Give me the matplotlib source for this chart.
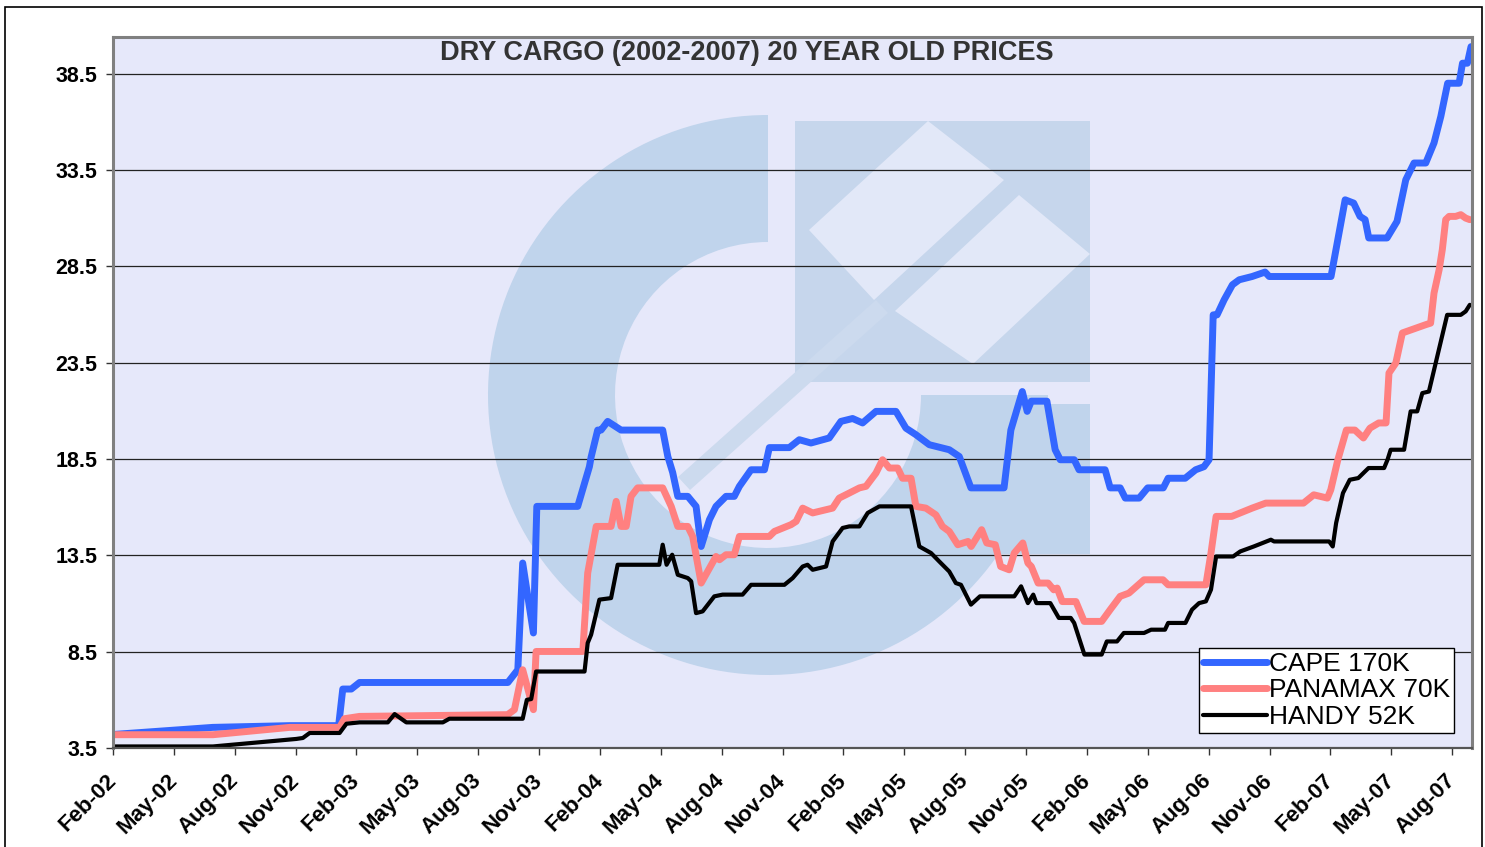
"""
Dry cargo 20 year old second-hand prices, 2002-2007 (Cape / Panamax / Handy).
"""

import matplotlib
matplotlib.use("Agg")
import matplotlib.pyplot as plt
from matplotlib.patches import Rectangle, Wedge, Polygon

plt.rcParams["font.family"] = ["Liberation Sans", "DejaVu Sans"]

# ─── Data (time in decimal years, price) ────────────────────────────────────
TITLE = "DRY CARGO (2002-2007) 20 YEAR OLD PRICES"

CAPE_T = [2002.083, 2002.493, 2002.809, 2003.010, 2003.027, 2003.062, 2003.096,
          2003.705, 2003.746, 2003.766, 2003.810, 2003.824, 2003.992, 2004.040,
          2004.047, 2004.074, 2004.088, 2004.115, 2004.170, 2004.341, 2004.362,
          2004.382, 2004.403, 2004.444, 2004.478, 2004.499, 2004.533, 2004.560,
          2004.601, 2004.635, 2004.656, 2004.704, 2004.759, 2004.779, 2004.861,
          2004.902, 2004.950, 2005.025, 2005.073, 2005.121, 2005.162, 2005.217,
          2005.299, 2005.340, 2005.381, 2005.436, 2005.518, 2005.559, 2005.607,
          2005.743, 2005.771, 2005.818, 2005.838, 2005.855, 2005.919, 2005.953,
          2005.974, 2006.031, 2006.051, 2006.158, 2006.179, 2006.220, 2006.241,
          2006.298, 2006.333, 2006.397, 2006.417, 2006.487, 2006.530, 2006.564,
          2006.585, 2006.602, 2006.618, 2006.647, 2006.681, 2006.709, 2006.762,
          2006.815, 2006.832, 2007.086, 2007.144, 2007.179, 2007.205, 2007.226,
          2007.241, 2007.316, 2007.357, 2007.393, 2007.427, 2007.475, 2007.509,
          2007.537, 2007.565, 2007.612, 2007.626, 2007.646, 2007.661]
CAPE_V = [4.20, 4.57, 4.66, 4.66, 6.56, 6.56, 6.90,
          6.90, 7.56, 13.10, 9.47, 16.04, 16.04, 18.10,
          18.60, 20.00, 20.00, 20.45, 20.00, 20.00, 18.63,
          17.80, 16.56, 16.56, 16.04, 13.96, 15.35, 16.04,
          16.56, 16.56, 17.08, 17.94, 17.94, 19.09, 19.09,
          19.50, 19.33, 19.59, 20.45, 20.60, 20.37, 20.97,
          20.97, 20.10, 19.76, 19.24, 18.98, 18.63, 17.00,
          17.00, 20.00, 22.00, 20.97, 21.50, 21.50, 18.98,
          18.46, 18.46, 17.94, 17.94, 17.00, 17.00, 16.47,
          16.47, 17.00, 17.00, 17.50, 17.50, 17.94, 18.10,
          18.46, 25.98, 25.98, 26.76, 27.54, 27.80, 27.97,
          28.20, 27.97, 27.97, 31.95, 31.78, 31.09, 30.92,
          29.97, 29.97, 30.83, 32.99, 33.86, 33.86, 34.90,
          36.28, 38.00, 38.00, 39.04, 39.04, 39.90]

PANAMAX_T = [2002.083, 2002.494, 2002.809, 2003.014, 2003.034, 2003.096, 2003.704,
             2003.732, 2003.766, 2003.810, 2003.821, 2004.013, 2004.033, 2004.068,
             2004.129, 2004.150, 2004.170, 2004.191, 2004.211, 2004.238, 2004.341,
             2004.376, 2004.403, 2004.444, 2004.464, 2004.499, 2004.560, 2004.574,
             2004.601, 2004.635, 2004.656, 2004.779, 2004.800, 2004.868, 2004.889,
             2004.916, 2004.957, 2005.039, 2005.066, 2005.107, 2005.149, 2005.176,
             2005.217, 2005.244, 2005.272, 2005.306, 2005.326, 2005.361, 2005.381,
             2005.422, 2005.463, 2005.490, 2005.518, 2005.553, 2005.595, 2005.608,
             2005.651, 2005.672, 2005.707, 2005.729, 2005.764, 2005.785, 2005.820,
             2005.841, 2005.855, 2005.883, 2005.924, 2005.947, 2005.961, 2005.982,
             2006.038, 2006.072, 2006.144, 2006.179, 2006.220, 2006.256, 2006.318,
             2006.396, 2006.417, 2006.572, 2006.593, 2006.614, 2006.678, 2006.762,
             2006.818, 2006.973, 2007.015, 2007.071, 2007.085, 2007.114, 2007.149,
             2007.184, 2007.219, 2007.246, 2007.282, 2007.312, 2007.324, 2007.352,
             2007.379, 2007.475, 2007.495, 2007.509, 2007.530, 2007.543, 2007.557,
             2007.571, 2007.598, 2007.619, 2007.639, 2007.656]
PANAMAX_V = [4.19, 4.19, 4.57, 4.57, 5.02, 5.14, 5.23,
             5.49, 7.56, 5.49, 8.51, 8.51, 12.58, 15.00,
             15.00, 16.30, 15.00, 15.00, 16.56, 17.00, 17.00,
             16.04, 15.00, 15.00, 14.48, 12.06, 13.44, 13.27,
             13.53, 13.53, 14.48, 14.48, 14.74, 15.09, 15.26,
             15.95, 15.70, 15.95, 16.47, 16.73, 17.00, 17.08,
             17.77, 18.46, 18.03, 18.03, 17.50, 17.50, 16.04,
             15.95, 15.60, 15.00, 14.74, 14.05, 14.22, 13.96,
             14.83, 14.14, 14.05, 12.92, 12.75, 13.62, 14.14,
             13.10, 12.92, 12.06, 12.06, 11.71, 11.80, 11.10,
             11.10, 10.07, 10.07, 10.68, 11.37, 11.54, 12.23,
             12.23, 11.97, 11.97, 13.62, 15.52, 15.52, 15.95,
             16.21, 16.21, 16.64, 16.47, 16.90, 18.46, 20.00,
             20.00, 19.59, 20.10, 20.37, 20.37, 22.96, 23.48,
             25.04, 25.47, 25.55, 27.11, 28.32, 29.36, 30.92,
             31.09, 31.09, 31.18, 31.00, 30.92]

HANDY_T = [2002.083, 2002.494, 2002.836, 2002.863, 2002.891, 2003.014, 2003.042,
           2003.096, 2003.212, 2003.240, 2003.288, 2003.438, 2003.465, 2003.766,
           2003.783, 2003.801, 2003.821, 2004.020, 2004.033, 2004.047, 2004.068,
           2004.081, 2004.129, 2004.156, 2004.327, 2004.341, 2004.357, 2004.380,
           2004.403, 2004.444, 2004.458, 2004.478, 2004.505, 2004.553, 2004.587,
           2004.669, 2004.704, 2004.841, 2004.875, 2004.916, 2004.936, 2004.957,
           2005.012, 2005.039, 2005.080, 2005.107, 2005.149, 2005.183, 2005.231,
           2005.361, 2005.395, 2005.443, 2005.477, 2005.518, 2005.545, 2005.566,
           2005.607, 2005.644, 2005.785, 2005.813, 2005.841, 2005.863, 2005.876,
           2005.933, 2005.968, 2006.017, 2006.031, 2006.073, 2006.144, 2006.165,
           2006.207, 2006.235, 2006.318, 2006.347, 2006.404, 2006.417, 2006.488,
           2006.515, 2006.544, 2006.572, 2006.593, 2006.614, 2006.684, 2006.713,
           2006.769, 2006.839, 2006.852, 2007.078, 2007.093, 2007.107, 2007.135,
           2007.163, 2007.198, 2007.240, 2007.304, 2007.318, 2007.331, 2007.386,
           2007.413, 2007.440, 2007.461, 2007.488, 2007.563, 2007.619, 2007.639,
           2007.656]
HANDY_V = [3.58, 3.58, 3.97, 4.02, 4.28, 4.28, 4.76,
           4.83, 4.83, 5.26, 4.83, 4.83, 5.02, 5.02,
           6.00, 6.04, 7.47, 7.47, 8.95, 9.38, 10.50,
           11.20, 11.28, 13.01, 13.01, 14.05, 13.01, 13.53,
           12.49, 12.32, 12.15, 10.50, 10.59, 11.37, 11.46,
           11.46, 11.97, 11.97, 12.32, 12.92, 13.01, 12.75,
           12.92, 14.22, 14.92, 15.00, 15.00, 15.70, 16.04,
           16.04, 13.96, 13.62, 13.18, 12.66, 12.06, 11.97,
           10.94, 11.37, 11.37, 11.89, 11.02, 11.46, 11.02,
           11.02, 10.25, 10.25, 9.99, 8.35, 8.35, 9.03,
           9.03, 9.47, 9.47, 9.64, 9.64, 9.99, 9.99,
           10.68, 11.02, 11.11, 11.72, 13.44, 13.44, 13.70,
           13.96, 14.31, 14.22, 14.22, 13.96, 15.18, 16.73,
           17.42, 17.51, 18.03, 18.03, 18.46, 18.98, 18.98,
           20.97, 20.97, 21.92, 22.00, 25.98, 25.98, 26.16,
           26.50]

SERIES = [
    ("CAPE 170K",   CAPE_T,    CAPE_V,    "#3366FF", 5.0),
    ("PANAMAX 70K", PANAMAX_T, PANAMAX_V, "#FF8080", 5.0),
    ("HANDY 52K",   HANDY_T,   HANDY_V,   "#000000", 3.0),
]

X_LABELS = ["Feb-02", "May-02", "Aug-02", "Nov-02", "Feb-03", "May-03", "Aug-03",
            "Nov-03", "Feb-04", "May-04", "Aug-04", "Nov-04", "Feb-05", "May-05",
            "Aug-05", "Nov-05", "Feb-06", "May-06", "Aug-06", "Nov-06", "Feb-07",
            "May-07", "Aug-07"]
Y_TICKS = [3.5, 8.5, 13.5, 18.5, 23.5, 28.5, 33.5, 38.5]

MONTHS = ["Jan", "Feb", "Mar", "Apr", "May", "Jun",
          "Jul", "Aug", "Sep", "Oct", "Nov", "Dec"]
x_ticks = [2000 + int(l[-2:]) + MONTHS.index(l[:3]) / 12 for l in X_LABELS]

# ─── Figure ──────────────────────────────────────────────────────────────────
W, H = 1485, 847
fig = plt.figure(figsize=(W / 100, H / 100), dpi=100)
fig.patch.set_facecolor("white")

# outer frame
fig.add_artist(Rectangle((5 / W, -0.02), 1477 / W, 1 - 7 / H + 0.02,
                         transform=fig.transFigure, fill=False,
                         edgecolor="black", linewidth=1.2))

rect = [113 / W, 1 - 748 / H, 1359 / W, 711 / H]

# background + faint logo watermark (pixel coordinates)
bg = fig.add_axes(rect, zorder=0)
bg.set_facecolor("#E6E8FA")
bg.set_xlim(113, 1472)
bg.set_ylim(748, 37)
bg.set_xticks([]); bg.set_yticks([])
for s in bg.spines.values():
    s.set_visible(False)
WM = "#C0D4EC"
LIGHT = "#E2E8F8"
bg.add_patch(Wedge((768, 395), 280, 0, 270, width=127, color=WM, lw=0))
bg.add_patch(Rectangle((947, 404), 143, 150, color=WM, lw=0))
bg.add_patch(Rectangle((795, 121), 295, 261, color="#C6D6EC", lw=0))
bg.add_patch(Polygon([(809, 230), (928, 121), (1004, 180), (874, 300)],
                     color=LIGHT, lw=0))
bg.add_patch(Polygon([(895, 311), (1019, 195), (1090, 254), (973, 364)],
                     color=LIGHT, lw=0))
bg.add_patch(Polygon([(876, 300), (888, 313), (690, 490), (678, 477)],
                     color="#CCDAEE", lw=0))

# main chart
ax = fig.add_axes(rect, zorder=1)
ax.set_facecolor("none")

for label, t, v, color, lw in SERIES:
    ax.plot(t, v, color=color, linewidth=lw, label=label,
            solid_joinstyle="round", solid_capstyle="round")

ax.set_xlim(2002.0833, 2007.665)
ax.set_ylim(3.5, 40.4)

ax.set_yticks(Y_TICKS)
ax.set_yticklabels([f"{t:.1f}" for t in Y_TICKS], fontsize=15.5, fontweight="bold")
ax.set_xticks(x_ticks)
ax.set_xticklabels(X_LABELS, fontsize=16, fontweight="bold", rotation=45,
                   ha="right", va="center", rotation_mode="anchor")
ax.tick_params(axis="y", length=5, width=1, pad=6, color="#333333")
ax.tick_params(axis="x", length=5, width=1, pad=16, color="#333333")

ax.grid(axis="y", color="#222222", linewidth=0.9)
ax.set_axisbelow(True)

for side in ["left", "top", "right"]:
    ax.spines[side].set_color("#808080")
    ax.spines[side].set_linewidth(2.2)
ax.spines["bottom"].set_color("#555555")
ax.spines["bottom"].set_linewidth(1.6)

fig.text(747 / W, 1 - 53 / H, TITLE, ha="center", va="center",
         fontsize=19.5, fontweight="bold", color="#333333")

leg = ax.legend(loc="lower right", bbox_to_anchor=(0.987, 0.021),
                borderaxespad=0, fontsize=19, handlelength=2.4,
                handletextpad=0.1, labelspacing=0.1, borderpad=0.15,
                fancybox=False, framealpha=1, edgecolor="black")
leg.get_frame().set_linewidth(1.0)

fig.savefig("out.png", dpi=100)
